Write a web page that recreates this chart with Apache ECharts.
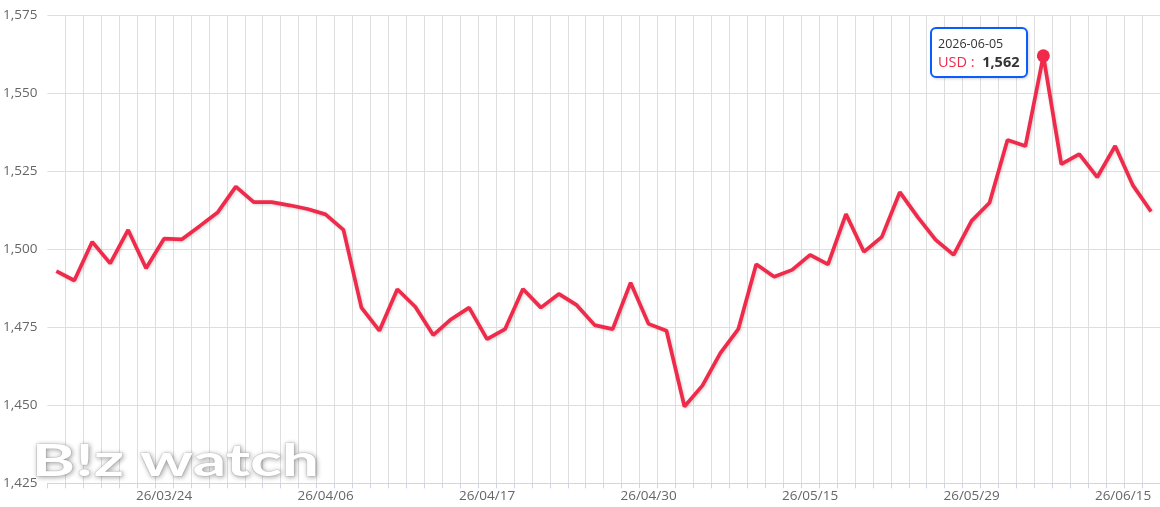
<!DOCTYPE html>
<html>
<head>
<meta charset="utf-8">
<script src="https://cdn.jsdelivr.net/npm/echarts@6/dist/echarts.min.js"></script>
<style>
html,body{margin:0;padding:0;background:#fff;overflow:hidden;}
#chart{width:1160px;height:507px;}
</style>
</head>
<body>
<div id="chart"></div>
<script>
const dates = [
  '2026-03-16','2026-03-17','2026-03-18','2026-03-19','2026-03-20','2026-03-23','2026-03-24','2026-03-25','2026-03-26','2026-03-27',
  '2026-03-30','2026-03-31','2026-04-01','2026-04-02','2026-04-03','2026-04-06','2026-04-07','2026-04-08','2026-04-09','2026-04-10',
  '2026-04-13','2026-04-14','2026-04-15','2026-04-16','2026-04-17','2026-04-20','2026-04-21','2026-04-22','2026-04-23','2026-04-24',
  '2026-04-27','2026-04-28','2026-04-29','2026-04-30','2026-05-04','2026-05-06','2026-05-07','2026-05-08','2026-05-11','2026-05-12',
  '2026-05-13','2026-05-14','2026-05-15','2026-05-18','2026-05-19','2026-05-20','2026-05-21','2026-05-22','2026-05-26','2026-05-27',
  '2026-05-28','2026-05-29','2026-06-01','2026-06-02','2026-06-04','2026-06-05','2026-06-08','2026-06-09','2026-06-10','2026-06-11',
  '2026-06-12','2026-06-15'
];
const usd = [
  1493.0,1490.0,1502.4,1495.5,1506.2,1493.9,1503.4,1503.2,1507.5,1511.9,
  1520.1,1515.1,1515.1,1514.1,1512.9,1511.2,1506.2,1481.3,1473.9,1487.2,
  1481.6,1472.5,1477.6,1481.3,1471.2,1474.4,1487.3,1481.3,1485.7,1482.1,
  1475.7,1474.4,1489.3,1476.1,1473.9,1449.6,1456.3,1466.7,1474.4,1495.2,
  1491.2,1493.4,1498.2,1495.2,1511.3,1499.2,1504.0,1518.3,1510.3,1503.0,
  1498.2,1509.1,1514.9,1535.0,1533.1,1562.0,1527.3,1530.5,1523.1,1533.1,
  1520.4,1512.1
];
const tickDates = ['2026-03-24','2026-04-06','2026-04-17','2026-04-30','2026-05-15','2026-05-29','2026-06-15'];
const seriesName = 'USD';
const highlightDate = '2026-06-05';
const yMin = 1425, yMax = 1575, yStep = 25;

const peakIdx = dates.indexOf(highlightDate);
const lineColor = '#ef2a4b';
const fontFam = '"Open Sans", "Noto Sans", sans-serif';

const chart = echarts.init(document.getElementById('chart'), null, {renderer:'canvas'});

function shortDate(d){ const p = d.split('-'); return p[0].slice(2)+'/'+p[1]+'/'+p[2]; }
function fmt(v){ return Math.round(v).toLocaleString('en-US'); }

const option = {
  animation: false,
  backgroundColor: '#fff',
  grid: { left: 45.25, right: -4.8, top: 15.3, bottom: 23.7, containLabel: false },
  xAxis: {
    type: 'category',
    data: dates,
    boundaryGap: true,
    axisLine: { show: true, lineStyle: { color: '#ccd6eb', width: 1 } },
    axisTick: { show: true, length: 5, lineStyle: { color: '#ccd6eb' }, interval: 0 },
    splitLine: { show: true, showMinLine: false, interval: 0, lineStyle: { color: '#dedede', width: 1 } },
    axisLabel: {
      color: '#666666',
      fontSize: 13.5,
      fontFamily: fontFam,
      margin: 6,
      interval: function(i, v){ return tickDates.indexOf(v) >= 0; },
      formatter: function(v, i){
        const s = shortDate(v);
        return i === dates.length - 1 ? '{r|' + s + '}' : s;
      },
      rich: { r: { color:'#666666', fontSize:13.5, fontFamily: fontFam, padding:[0,56,0,0] } }
    }
  },
  yAxis: {
    type: 'value',
    min: yMin, max: yMax, interval: yStep,
    axisLine: { show: false },
    axisTick: { show: false },
    splitLine: { show: true, lineStyle: { color: '#dedede', width: 1 } },
    axisLabel: {
      color: '#666666', fontSize: 13.5, fontFamily: fontFam, margin: 10,
      formatter: function(v){ return v.toLocaleString('en-US'); }
    }
  },
  tooltip: {
    show: true,
    trigger: 'item',
    triggerOn: 'none',
    alwaysShowContent: true,
    transitionDuration: 0,
    backgroundColor: '#ffffff',
    borderColor: '#0a5cff',
    borderWidth: 2,
    borderRadius: 6,
    padding: [7, 7, 5, 6],
    extraCssText: 'box-shadow: 1px 1px 3px rgba(0,0,0,0.18);',
    position: function(pt, params, dom, rect, size){
      const p = chart.convertToPixel({xAxisIndex:0, yAxisIndex:0}, [dates[peakIdx], usd[peakIdx]]);
      return [p[0] - size.contentSize[0] - 15, p[1] - 29];
    },
    formatter: function(params){
      return '<div style="font-family:' + fontFam.replace(/"/g,"'") + ';">' +
        '<div style="font-size:12.5px;line-height:16px;color:#333;">' + params.name + '</div>' +
        '<div style="font-size:14.5px;line-height:19px;white-space:nowrap;">' +
        '<span style="color:' + lineColor + ';">' + params.seriesName + ' : </span>' +
        '&nbsp;<b style="color:#333;">' + fmt(params.value) + '</b></div></div>';
    }
  },
  graphic: [{
    type: 'text',
    left: 31, top: 439,
    silent: true,
    z: 100,
    scaleX: 1.5,
    style: {
      text: 'B!z watch',
      font: 'bold 44px Lato, "Open Sans", sans-serif',
      fill: '#ffffff',
      stroke: 'rgba(200,200,200,0.55)',
      lineWidth: 1,
      textShadowColor: 'rgba(0,0,0,0.35)',
      textShadowBlur: 5,
      textShadowOffsetX: 1,
      textShadowOffsetY: 1,
      shadowColor: 'rgba(0,0,0,0.35)',
      shadowBlur: 5,
      shadowOffsetX: 1,
      shadowOffsetY: 1
    }
  }],
  series: [{
    name: seriesName,
    type: 'line',
    data: usd,
    symbol: 'circle',
    symbolSize: function(v, params){ return params.dataIndex === peakIdx ? 13 : 0; },
    showSymbol: true,
    showAllSymbol: true,
    itemStyle: { color: lineColor },
    lineStyle: { color: lineColor, width: 3.7, shadowColor: 'rgba(0,0,0,0.18)', shadowBlur: 3, shadowOffsetX: 1, shadowOffsetY: 1 },
    emphasis: { disabled: true },
    z: 5
  }]
};
chart.setOption(option);
chart.dispatchAction({ type: 'showTip', seriesIndex: 0, dataIndex: peakIdx });
</script>
</body>
</html>
